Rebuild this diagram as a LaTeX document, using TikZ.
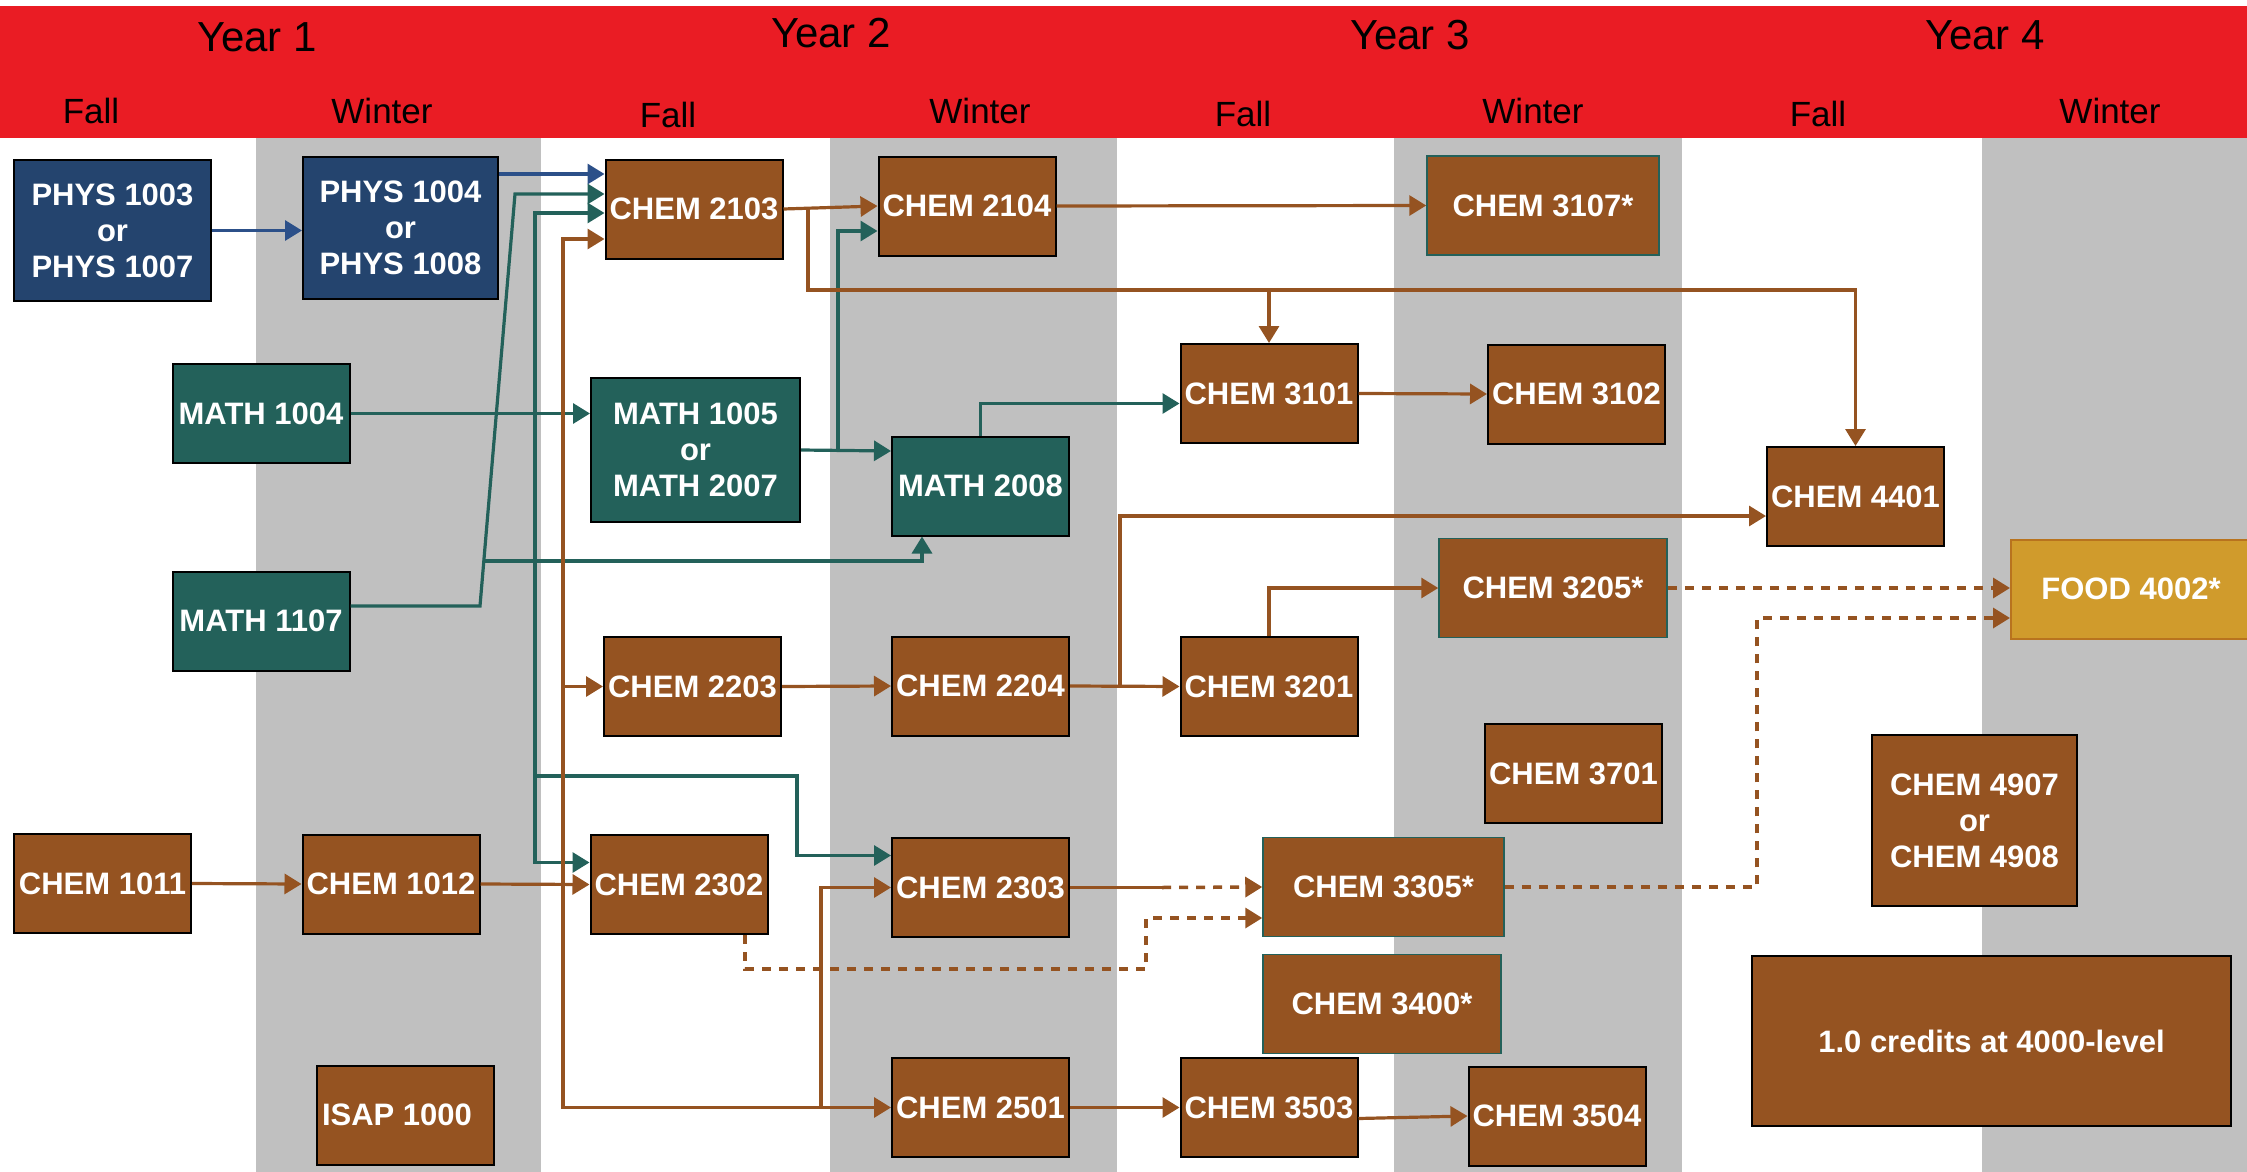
\documentclass[tikz,border=0pt]{standalone}
\usepackage{fontspec}
\setmainfont{Liberation Sans}
\usetikzlibrary{arrows.meta}

\definecolor{headred}{HTML}{EA1C24}
\definecolor{colgray}{HTML}{C0C0C0}
\definecolor{chembrown}{HTML}{955321}
\definecolor{physblue}{HTML}{24446E}
\definecolor{linkblue}{HTML}{2C5089}
\definecolor{mathteal}{HTML}{23615A}
\definecolor{foodgold}{HTML}{D09B2C}
\definecolor{foodedge}{HTML}{B8731E}

\tikzset{
  course/.style={draw=black, line width=2pt, fill=chembrown, text=white,
    font=\fontsize{31}{36}\selectfont\bfseries, align=center, inner sep=0pt,
    minimum width=177pt, minimum height=99pt},
  physbox/.style={course, fill=physblue},
  mathbox/.style={course, fill=mathteal},
  elective/.style={course, draw=mathteal, line width=1.5pt},
  foodbox/.style={course, fill=foodgold, draw=foodedge},
  yearlabel/.style={anchor=base, font=\fontsize{42}{48}\selectfont},
  termlabel/.style={anchor=base, font=\fontsize{35}{40}\selectfont},
  link/.style={line width=3.2pt, -{Triangle[length=17pt,width=20pt]}},
  bluelink/.style={link, color=linkblue},
  teallink/.style={link, color=mathteal},
  brownlink/.style={link, color=chembrown},
  brownline/.style={line width=3.2pt, color=chembrown},
  dashlink/.style={brownlink, line width=3.5pt, dash pattern=on 9pt off 8pt}
}

\begin{document}
\begin{tikzpicture}[x=1pt,y=-1pt]

  \useasboundingbox (0,0) rectangle (2247,1172);
  \fill[headred] (0,6) rectangle (2247,138);
  \foreach \a/\b in {256/541,830/1117,1394/1682,1982/2247}
    \fill[colgray] (\a,138) rectangle (\b,1172);

  \foreach \x/\y/\t in {257/52/Year 1,831/48/Year 2,1410/50/Year 3,1985/50/Year 4}
    \node[yearlabel] (year\x) at (\x,\y) {\t};
  \foreach \x/\y/\t in {91/123/Fall,382/123/Winter,668/128/Fall,980/123/Winter,
                        1243/126/Fall,1533/123/Winter,1818/126/Fall,2110/123/Winter}
    \node[termlabel] (term\x) at (\x,\y) {\t};

  \node[physbox, minimum width=197pt, minimum height=141pt] (phys1003) at (112.5,230.5) {PHYS 1003\\or\\PHYS 1007};
  \node[physbox, minimum width=195pt, minimum height=142pt] (phys1004) at (400.5,228) {PHYS 1004\\or\\PHYS 1008};
  \node[mathbox] (math1004) at (261,413.5) {MATH 1004};
  \node[mathbox] (math1107) at (261,621) {MATH 1107};
  \node[course] (chem1011) at (102.5,883.5) {CHEM 1011};
  \node[course] (chem1012) at (391,884) {CHEM 1012};
  \node[course] (isap1000) at (405,1115) {ISAP 1000\hspace*{16pt}};

  \node[course] (chem2103) at (694,209) {CHEM 2103};
  \node[mathbox, minimum width=209pt, minimum height=144pt] (math1005) at (695.5,450) {MATH 1005\\or\\MATH 2007};
  \node[course] (chem2203) at (692.5,686.5) {CHEM 2203};
  \node[course] (chem2302) at (679,884.5) {CHEM 2302};
  \node[course] (chem2104) at (967,206) {CHEM 2104};
  \node[mathbox] (math2008) at (980.5,486) {MATH 2008};
  \node[course] (chem2204) at (980.5,686) {CHEM 2204};
  \node[course] (chem2303) at (980.5,887.5) {CHEM 2303};
  \node[course] (chem2501) at (980.5,1107.5) {CHEM 2501};

  \node[course] (chem3101) at (1269,393.5) {CHEM 3101};
  \node[course] (chem3201) at (1269,686.5) {CHEM 3201};
  \node[elective, minimum width=241pt] (chem3305) at (1383.5,887) {CHEM 3305*};
  \node[elective, minimum width=238pt] (chem3400) at (1382,1004) {CHEM 3400*};
  \node[course] (chem3503) at (1269,1107.5) {CHEM 3503};
  \node[elective, minimum width=232pt] (chem3107) at (1543,205.5) {CHEM 3107*};
  \node[course] (chem3102) at (1576.5,394) {CHEM 3102};
  \node[elective, minimum width=228pt] (chem3205) at (1553,588) {CHEM 3205*};
  \node[course] (chem3701) at (1573.5,773.5) {CHEM 3701};
  \node[course] (chem3504) at (1557,1116) {CHEM 3504};

  \node[course] (chem4401) at (1855.5,496.5) {CHEM 4401};
  \node[foodbox, minimum width=240pt] (food4002) at (2131,589) {FOOD 4002*};
  \node[course, minimum width=205pt, minimum height=171pt] (chem4907) at (1974.5,820.5) {CHEM 4907\\or\\CHEM 4908};
  \node[course, minimum width=479pt, minimum height=170pt] (credits) at (1991.5,1041) {1.0 credits at 4000-level};

  \coordinate (t1) at (480,606);
  \coordinate (t2) at (515,194);
  \coordinate (t3) at (484,561);
  \coordinate (t4) at (922,561);
  \coordinate (t5) at (535,413.5);
  \coordinate (t6) at (535,776);
  \coordinate (t7) at (797,776);
  \coordinate (t8) at (838,450);
  \coordinate (b1) at (563,884);
  \coordinate (b2) at (821,1107.5);
  \coordinate (b3) at (808,209);
  \coordinate (b4) at (1269,290);
  \coordinate (b5) at (1120,686);
  \coordinate (b6) at (1162,887.5);
  \coordinate (d1) at (1146,969);
  \coordinate (d2) at (1757,887);

  \draw[bluelink] (phys1003.east) -- (phys1003.east -| phys1004.west);
  \draw[bluelink] ([yshift=54pt]phys1004.east) -- ([yshift=35pt]chem2103.west);

  \draw[teallink] (math1107.east |- t1) -- (t1) -- (t2) -- (t2 -| chem2103.west);
  \draw[teallink] (t3) -- (t4) -- (t4 |- math2008.south);
  \draw[teallink] (math1004.east) -- (math1004.east -| math1005.west);
  \draw[teallink] (t5) |- ([yshift=-4pt]chem2103.west);
  \draw[teallink] (t5) |- ([yshift=22pt]chem2302.west);
  \draw[teallink] (t6) -- (t7) |- ([yshift=32pt]chem2303.west);
  \draw[teallink] (math1005.east) -- ([yshift=35pt]math2008.west);
  \draw[teallink] (t8) |- ([yshift=-25pt]chem2104.west);
  \draw[teallink] (math2008.north) |- ([yshift=-10pt]chem3101.west);

  \draw[brownlink] (chem1011.east) -- (chem1012.west);
  \draw[brownlink] (chem1012.east) -- (chem2302.west);
  \draw[brownlink] (b1) |- ([yshift=-30pt]chem2103.west);
  \draw[brownlink] (b1 |- chem2203.west) -- (chem2203.west);
  \draw[brownlink] (b1) |- (chem2501.west);
  \draw[brownlink] (b2) |- (chem2303.west);
  \draw[brownlink] (chem2103.east) -- (chem2104.west);
  \draw[brownlink] (b3) |- (b4) -- (chem3101.north);
  \draw[brownlink] (b4) -| (chem4401.north);
  \draw[brownlink] (chem2104.east) -- (chem3107.west);
  \draw[brownlink] (chem3101.east) -- (chem3102.west);
  \draw[brownlink] (chem2203.east) -- (chem2204.west);
  \draw[brownlink] (chem2204.east) -- (chem3201.west);
  \draw[brownlink] (b5) |- ([yshift=-19.5pt]chem4401.west);
  \draw[brownlink] (chem3201.north) |- (chem3205.west);
  \draw[brownlink] (chem2501.east) -- (chem3503.west);
  \draw[brownlink] ([yshift=-11pt]chem3503.east) -- (chem3504.west);
  \draw[brownline] (chem2303.east) -- (b6);

  \draw[dashlink] (b6) -- (chem3305.west);
  \draw[dashlink] ([xshift=66pt]chem2302.south) |- (d1) |- ([yshift=-31pt]chem3305.west);
  \draw[dashlink] (chem3205.east) -- (chem3205.east -| food4002.west);
  \draw[dashlink] (chem3305.east) -- (d2) |- ([yshift=-29pt]food4002.west);

\end{tikzpicture}
\end{document}
